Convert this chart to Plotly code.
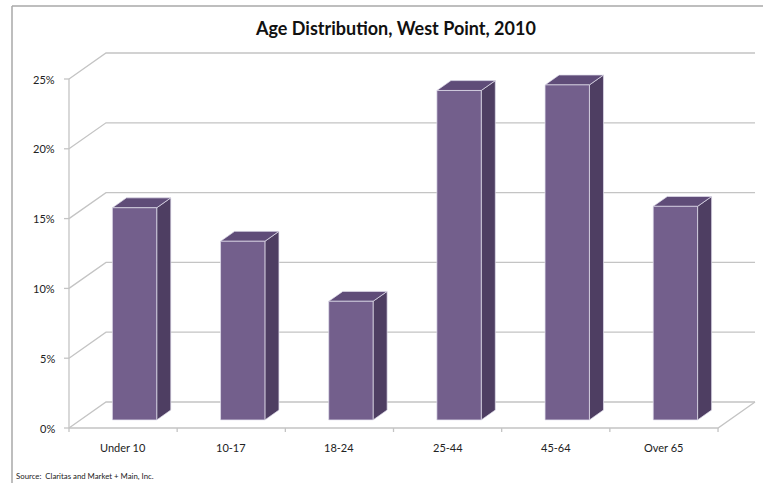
import plotly.graph_objects as go

categories = ["Under 10", "10-17", "18-24", "25-44", "45-64", "Over 65"]
values = [15.2, 12.8, 8.5, 23.6, 24.0, 15.3]
y_ticks = [0, 5, 10, 15, 20, 25]
y_tick_labels = ["0%", "5%", "10%", "15%", "20%", "25%"]
title_text = "Age Distribution, West Point, 2010"
source_text = "Source:  Claritas and Market + Main, Inc."

# layout / projection constants (pixels)
WIDTH, HEIGHT = 763, 483
X0_PX, Y0_PX = 69, 428          # front-left-bottom corner
CAT_PX = 108.17                 # pixels per category
PCT_PX = 13.96                  # pixels per percent
DEPTH_DX_PX, DEPTH_DY_PX = 37, 26

DX = DEPTH_DX_PX / CAT_PX       # full depth offset in category units
DY = DEPTH_DY_PX / PCT_PX       # full depth offset in percent units
N = len(categories)

F0, F1 = 0.31, 0.69             # bar depth (fraction of wall depth)
BAR_W = 0.41

FRONT = "#735f8c"
SIDE = "#4e3e62"
TOP = "#5f4c78"
EDGE = "rgba(225,222,235,0.9)"
GRID = "#c4c4c4"

fig = go.Figure()

def line(xs, ys, color=GRID, width=1.3):
    fig.add_trace(go.Scatter(x=xs, y=ys, mode="lines",
                             line=dict(color=color, width=width),
                             hoverinfo="skip", showlegend=False))

def poly(xs, ys, fill):
    fig.add_trace(go.Scatter(x=xs + [xs[0]], y=ys + [ys[0]], mode="lines",
                             fill="toself", fillcolor=fill,
                             line=dict(color=EDGE, width=0.8),
                             hoverinfo="skip", showlegend=False))

# gridlines: left wall diagonals + back wall horizontals
for t in y_ticks:
    line([0, DX, N + DX], [t, t + DY, t + DY])
# front y axis
line([0, 0], [0, y_ticks[-1]])
for t in y_ticks:
    line([-5 / CAT_PX, 0], [t, t])
# floor front edge and right edge
line([0, N, N + DX], [0, 0, DY])
# x axis ticks
for k in range(N + 1):
    line([k, k], [0, -4 / PCT_PX])

# bars
for i, v in enumerate(values):
    cx = i + 0.5
    xl = cx - BAR_W / 2 + F0 * DX
    xr = cx + BAR_W / 2 + F0 * DX
    yb = F0 * DY
    dxd = (F1 - F0) * DX
    dyd = (F1 - F0) * DY
    # side face
    poly([xr, xr + dxd, xr + dxd, xr], [yb, yb + dyd, yb + v + dyd, yb + v], SIDE)
    # top face
    poly([xl, xr, xr + dxd, xl + dxd], [yb + v, yb + v, yb + v + dyd, yb + v + dyd], TOP)
    # front face
    poly([xl, xr, xr, xl], [yb, yb, yb + v, yb + v], FRONT)

annotations = []
for t, lab in zip(y_ticks, y_tick_labels):
    annotations.append(dict(x=-12 / CAT_PX, y=t, xref="x", yref="y", text=lab,
                            showarrow=False, xanchor="right", yanchor="middle",
                            font=dict(family="Lato", size=11, color="#222")))
for i, c in enumerate(categories):
    annotations.append(dict(x=i + 0.5, y=-19 / PCT_PX, xref="x", yref="y", text=c,
                            showarrow=False, xanchor="center", yanchor="middle",
                            font=dict(family="Lato", size=11, color="#222")))
annotations.append(dict(x=395 / WIDTH, y=1 - 28 / HEIGHT, xref="paper", yref="paper",
                        text="<b>" + title_text + "</b>", showarrow=False,
                        xanchor="center", yanchor="middle",
                        font=dict(family="Lato", size=18, color="#111")))
annotations.append(dict(x=14 / WIDTH, y=1 - 476 / HEIGHT, xref="paper", yref="paper",
                        text=source_text, showarrow=False,
                        xanchor="left", yanchor="middle",
                        font=dict(family="Lato", size=7.8, color="#222")))

shapes = [
    dict(type="line", xref="paper", yref="paper", x0=12 / WIDTH, x1=12 / WIDTH,
         y0=1 - 6 / HEIGHT, y1=0, line=dict(color="#a8a8a8", width=1.5)),
    dict(type="line", xref="paper", yref="paper", x0=12 / WIDTH, x1=1,
         y0=1 - 6 / HEIGHT, y1=1 - 6 / HEIGHT, line=dict(color="#a8a8a8", width=1.5)),
]

fig.update_layout(
    width=WIDTH, height=HEIGHT, autosize=False,
    margin=dict(l=0, r=0, t=0, b=0),
    paper_bgcolor="white", plot_bgcolor="white",
    xaxis=dict(range=[-X0_PX / CAT_PX, (WIDTH - X0_PX) / CAT_PX], visible=False, fixedrange=True),
    yaxis=dict(range=[-(HEIGHT - Y0_PX) / PCT_PX, Y0_PX / PCT_PX], visible=False, fixedrange=True),
    annotations=annotations, shapes=shapes, showlegend=False,
)

fig.write_html("out.html")
